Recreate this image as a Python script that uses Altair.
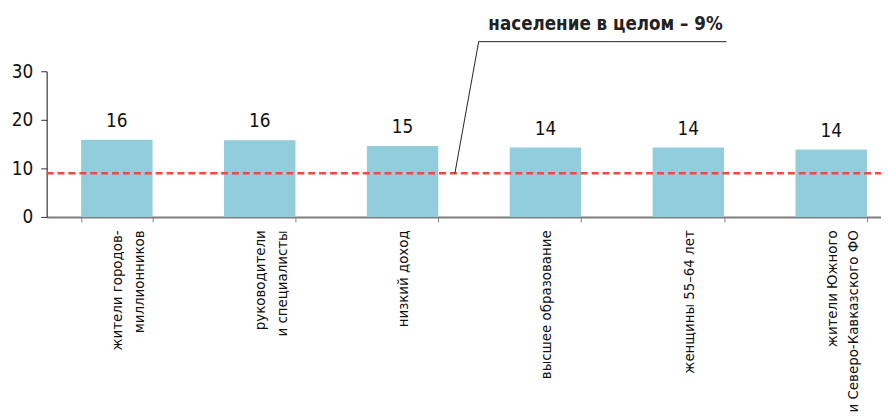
import altair as alt
import pandas as pd

categories = [
    "жители городов-|миллионников",
    "руководители|и специалисты",
    "низкий доход",
    "высшее образование",
    "женщины 55–64 лет",
    "жители Южного|и Северо-Кавказского ФО",
]
values = [15.9, 15.8, 14.6, 14.3, 14.3, 13.9]
value_labels = ["16", "16", "15", "14", "14", "14"]
overall_value = 9
overall_text = "население в целом – 9%"
y_ticks = [0, 10, 20, 30]

FONT = "Liberation Sans Narrow, DejaVu Sans Condensed, sans-serif"

df = pd.DataFrame({"cat": categories, "val": values, "lab": value_labels})

xenc = alt.X(
    "cat:N",
    sort=None,
    title=None,
    scale=alt.Scale(paddingInner=0.5, paddingOuter=0.17, align=0.71),
    axis=alt.Axis(
        labelAngle=270,
        labelExpr="split(datum.label, '|')",
        labelFont=FONT,
        labelFontSize=15,
        labelLineHeight=22,
        labelColor="#111",
        labelPadding=8,
        labelLimit=0,
        domainColor="#7f7f7f",
        domainWidth=2,
        tickColor="#7f7f7f",
        tickSize=5,
        tickBand="extent",
    ),
)
yscale = alt.Scale(domain=[0, 30], nice=False)
yenc = alt.Y(
    "val:Q",
    title=None,
    scale=yscale,
    axis=alt.Axis(
        values=y_ticks,
        grid=False,
        labelFont=FONT,
        labelFontSize=19,
        labelColor="#111",
        labelPadding=8,
        domainColor="#111",
        tickColor="#333",
        tickSize=6,
    ),
)

bars = alt.Chart(df).mark_bar(color="#92CDDC").encode(x=xenc, y=yenc)
texts = alt.Chart(df).mark_text(
    baseline="middle", dy=-19, font=FONT, fontSize=19, color="#111"
).encode(x=alt.X("cat:N", sort=None), y=alt.Y("val:Q", scale=yscale), text="lab:N")

ref = pd.DataFrame({"v": [overall_value]})
red = alt.Chart(ref).mark_rule(
    color="#EE4B3E", strokeDash=[7, 4], strokeWidth=2.5
).encode(y=alt.Y("v:Q", scale=yscale), x=alt.value(0), x2=alt.value(842))

ann = pd.DataFrame({"v": [overall_value], "top": [36.1], "t": [overall_text]})
leader = alt.Chart(ann).mark_rule(color="#222", strokeWidth=1).encode(
    x=alt.value(436), y=alt.Y("top:Q", scale=yscale), x2=alt.value(412), y2="v:Q"
)
underline = alt.Chart(ann).mark_rule(color="#222", strokeWidth=1).encode(
    x=alt.value(436), x2=alt.value(686), y=alt.Y("top:Q", scale=yscale)
)
label = alt.Chart(ann).mark_text(
    font=FONT, fontSize=18.8, fontWeight="bold", color="#222", align="center",
    baseline="alphabetic", dy=-12,
).encode(x=alt.value(564), y=alt.Y("top:Q", scale=yscale), text="t:N")

chart = (
    alt.layer(bars, red, texts, leader, underline, label)
    .properties(
        width=842,
        height=147,
        autosize=alt.AutoSizeParams(type="none"),
        padding={"left": 39, "top": 62, "right": 0, "bottom": 196},
    )
    .configure_view(stroke=None)
)
chart.save("out.html", embed_options={"renderer": "svg", "actions": False})
